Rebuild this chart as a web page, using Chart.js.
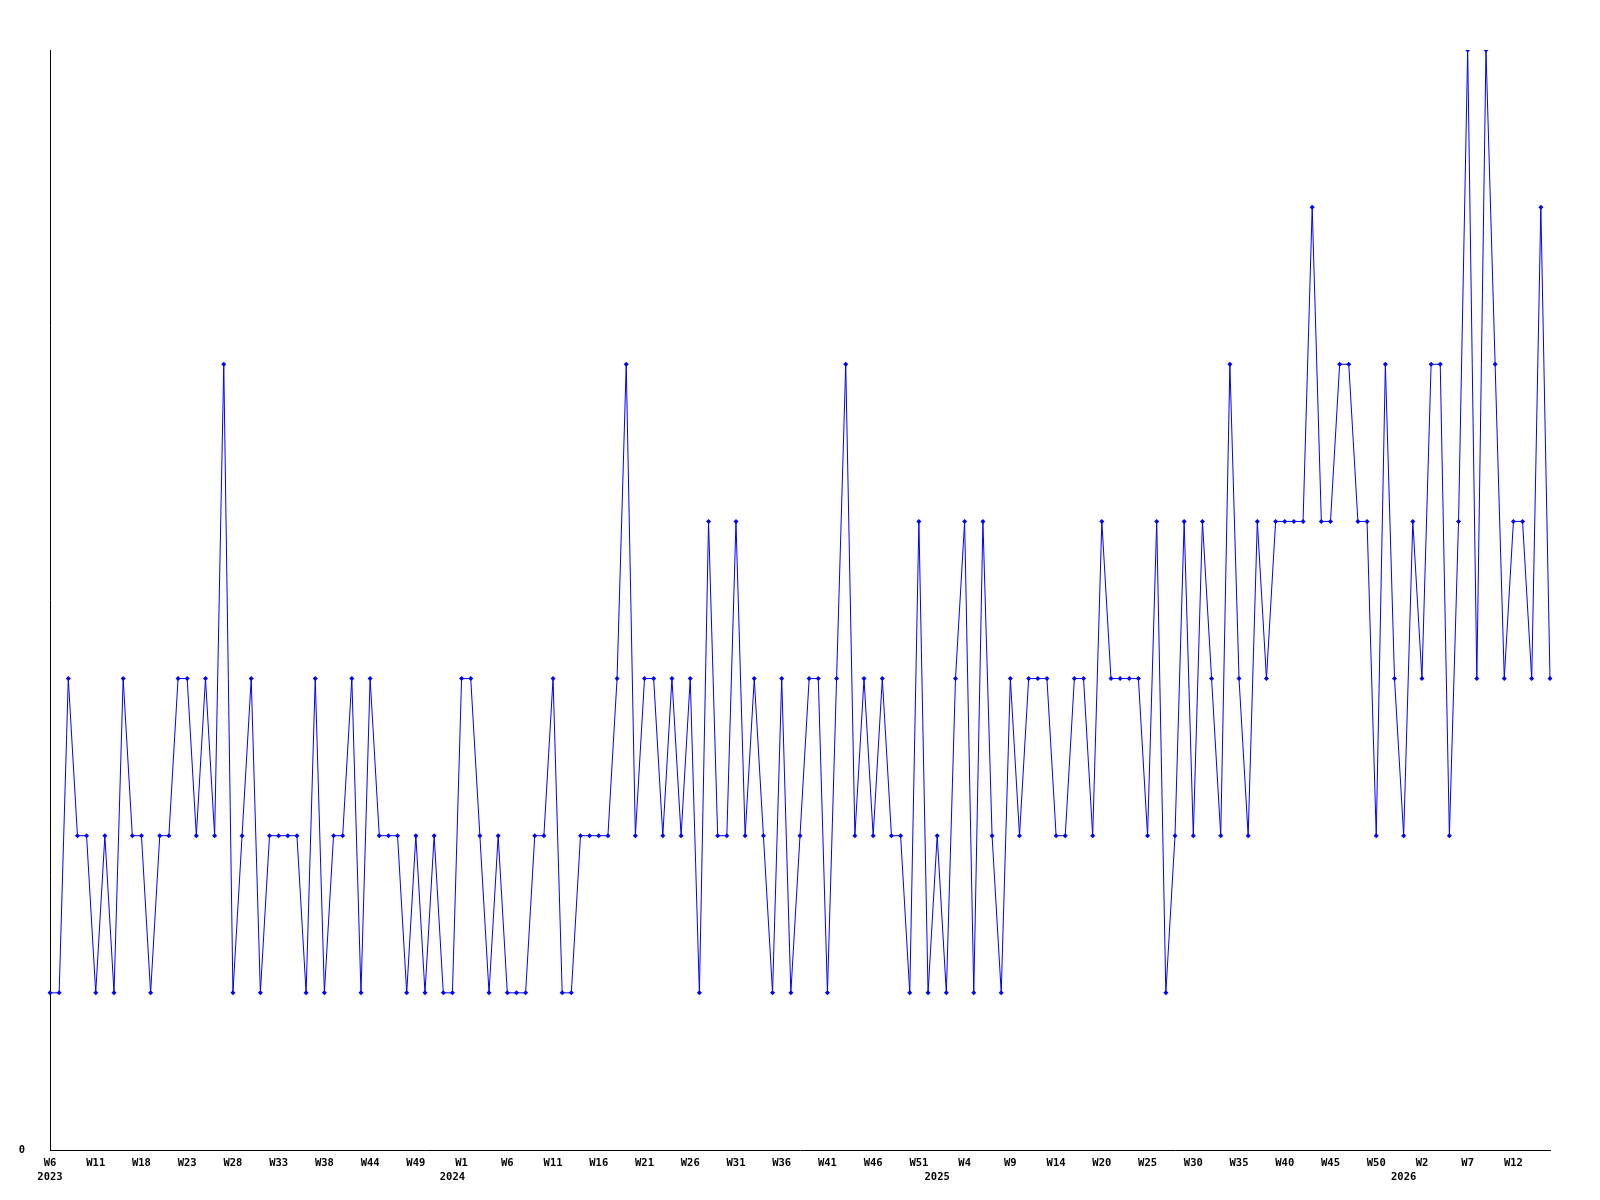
<!DOCTYPE html>
<html>
<head>
<meta charset="utf-8">
<script src="https://cdn.jsdelivr.net/npm/chart.js@4"></script>
<style>
  html, body { margin: 0; padding: 0; background: #ffffff; }
  #wrap { width: 1600px; height: 1200px; }
</style>
</head>
<body>
<div id="wrap"><canvas id="weekChart" width="1600" height="1200"></canvas></div>
<script>
// one value per point
const values = [
  1, 1, 3, 2, 2, 1, 2, 1, 3, 2, 2, 1, 2, 2, 3, 3, 2, 3, 2, 5, 1,
  2, 3, 1, 2, 2, 2, 2, 1, 3, 1, 2, 2, 3, 1, 3, 2, 2, 2, 1, 2, 1,
  2, 1, 1, 3, 3, 2, 1, 2, 1, 1, 1, 2, 2, 3, 1, 1, 2, 2, 2, 2, 3,
  5, 2, 3, 3, 2, 3, 2, 3, 1, 4, 2, 2, 4, 2, 3, 2, 1, 3, 1, 2, 3,
  3, 1, 3, 5, 2, 3, 2, 3, 2, 2, 1, 4, 1, 2, 1, 3, 4, 1, 4, 2,
  1, 3, 2, 3, 3, 3, 2, 2, 3, 3, 2, 4, 3, 3, 3, 3, 2, 4, 1, 2, 4,
  2, 4, 3, 2, 5, 3, 2, 4, 3, 4, 4, 4, 4, 6, 4, 4, 5, 5, 4, 4, 2,
  5, 3, 2, 4, 3, 5, 5, 2, 4, 7, 3, 7, 5, 3, 4, 4, 3, 6, 3
];

// a week label on every 5th point
const tickStep = 5;
const weekTicks = [
  "W6", "W11", "W18", "W23", "W28", "W33", "W38", "W44", "W49",
  "W1", "W6", "W11", "W16", "W21", "W26", "W31", "W36", "W41", "W46", "W51",
  "W4", "W9", "W14", "W20", "W25", "W30", "W35", "W40", "W45", "W50",
  "W2", "W7", "W12"
];

// year labels and the point where each year starts
const years = ["2023", "2024", "2025", "2026"];
const yearStart = [0, 44, 97, 148];

const yMin = 0;
const yMax = 7;

const labels = values.map((v, i) => {
  const week = i % tickStep === 0 ? (weekTicks[i / tickStep] || "") : "";
  const y = yearStart.indexOf(i);
  if (y >= 0) return [week, years[y]];
  return week;
});

const tickFont = { family: "'DejaVu Sans Mono', monospace", size: 10.5, weight: "bold", lineHeight: 1.35 };

new Chart(document.getElementById("weekChart"), {
  type: "line",
  data: {
    labels: labels,
    datasets: [
      {
        data: values,
        borderColor: "#0000ff",
        backgroundColor: "#0000ff",
        borderWidth: 1,
        tension: 0,
        fill: false,
        pointStyle: "rectRot",
        pointRadius: 2.5,
        pointBorderWidth: 0,
        pointHoverRadius: 2.5,
      },
    ],
  },
  options: {
    responsive: false,
    animation: false,
    events: [],
    layout: { padding: { top: 50, right: 50, left: 0, bottom: 0 } },
    plugins: {
      legend: { display: false },
      tooltip: { enabled: false },
    },
    scales: {
      x: {
        type: "category",
        offset: false,
        grid: { display: false, drawTicks: false },
        border: { display: true, color: "#000000", width: 1 },
        ticks: {
          autoSkip: false,
          maxRotation: 0,
          minRotation: 0,
          padding: 6,
          color: "#000000",
          font: tickFont,
        },
        afterFit: (scale) => { scale.height = 50; },
      },
      y: {
        min: yMin,
        max: yMax,
        grid: { display: false, drawTicks: false },
        border: { display: true, color: "#000000", width: 1 },
        ticks: {
          padding: 25,
          color: "#000000",
          font: tickFont,
        },
        afterBuildTicks: (scale) => { scale.ticks = [{ value: yMin }]; },
        afterFit: (scale) => { scale.width = 50; },
      },
    },
  },
});
</script>
</body>
</html>
